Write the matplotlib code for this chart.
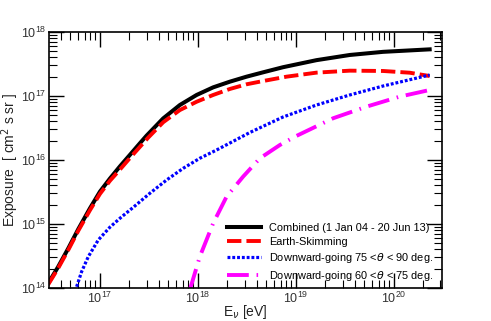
import numpy as np
import matplotlib
matplotlib.use("Agg")
import matplotlib.pyplot as plt
from matplotlib.ticker import LogLocator, NullFormatter

plt.rcParams['font.family'] = ['Liberation Sans', 'DejaVu Sans']

# log10(E/eV) and log10(exposure / cm2 s sr)
comb_x = [16.472, 16.574, 16.677, 16.779, 16.898, 17.000, 17.102, 17.204, 17.323, 17.408,
          17.476, 17.646, 17.816, 17.987, 18.156, 18.327, 18.497, 18.666, 18.870, 19.211,
          19.551, 19.891, 20.367]
comb_y = [14.073, 14.333, 14.620, 14.920, 15.245, 15.505, 15.710, 15.900, 16.110, 16.261,
          16.380, 16.650, 16.859, 17.016, 17.135, 17.224, 17.302, 17.370, 17.450, 17.560,
          17.641, 17.690, 17.729]

es_x = [16.472, 16.574, 16.677, 16.779, 16.898, 17.000, 17.102, 17.204, 17.323, 17.493,
        17.646, 17.816, 17.987, 18.156, 18.327, 18.497, 18.666, 18.905, 19.211, 19.551,
        19.891, 20.163, 20.367]
es_y = [14.055, 14.310, 14.595, 14.895, 15.215, 15.470, 15.675, 15.850, 16.060, 16.350,
        16.590, 16.780, 16.910, 17.016, 17.110, 17.183, 17.234, 17.302, 17.365, 17.396,
        17.391, 17.364, 17.312]

dg75_x = [16.762, 16.813, 16.881, 16.983, 17.102, 17.220, 17.340, 17.510, 17.681, 17.850,
          18.020, 18.191, 18.395, 18.531, 18.870, 19.211, 19.551, 19.891, 20.367]
dg75_y = [14.020, 14.255, 14.489, 14.750, 14.950, 15.110, 15.260, 15.480, 15.688, 15.870,
          16.027, 16.156, 16.320, 16.430, 16.672, 16.859, 17.016, 17.156, 17.328]

dg60_x = [17.918, 18.020, 18.156, 18.293, 18.462, 18.633, 18.837, 18.990, 19.381, 19.721,
          20.061, 20.367]
dg60_y = [13.970, 14.490, 15.010, 15.427, 15.740, 16.026, 16.234, 16.364, 16.652, 16.833,
          16.990, 17.094]

labels = ['Combined (1 Jan 04 - 20 Jun 13)', 'Earth-Skimming',
          r'Downward-going 75 <$\theta$ < 90 deg.', r'Downward-going 60 <$\theta$ < 75 deg.']

fig = plt.figure(figsize=(4.91, 3.21), dpi=100)
ax = fig.add_axes([0.0998, 0.1028, 0.7998, 0.7975])

ax.plot(10**np.array(comb_x), 10**np.array(comb_y), color='black', lw=2.9,
        solid_joinstyle='round', label=labels[0])
ax.plot(10**np.array(es_x), 10**np.array(es_y), color='red', lw=2.8,
        dashes=(3.7, 1.3), label=labels[1])
ax.plot(10**np.array(dg75_x), 10**np.array(dg75_y), color='blue', lw=2.3,
        dashes=(0.9, 0.6), label=labels[2])
ax.plot(10**np.array(dg60_x), 10**np.array(dg60_y), color='magenta', lw=2.8,
        dashes=(5.6, 2.0, 0.4, 2.0), label=labels[3])

ax.set_xscale('log')
ax.set_yscale('log')
ax.set_xlim(10**16.48, 10**20.49)
ax.set_ylim(1e14, 1e18)

ax.xaxis.set_major_locator(LogLocator(base=10, numticks=10))
ax.xaxis.set_minor_locator(LogLocator(base=10, subs=np.arange(2, 10), numticks=20))
ax.yaxis.set_minor_locator(LogLocator(base=10, subs=np.arange(2, 10), numticks=20))
ax.xaxis.set_minor_formatter(NullFormatter())
ax.yaxis.set_minor_formatter(NullFormatter())

ax.tick_params(which='both', direction='in', top=True, right=True, labelsize=9,
               labelcolor='#333333', pad=2)
ax.tick_params(which='major', length=11, width=1)
ax.tick_params(which='minor', length=6, width=0.8)
for s in ax.spines.values():
    s.set_linewidth(1.2)

ax.set_xlabel(r'E$_\nu$ [eV]', fontsize=10, color='#222222')
ax.set_ylabel(r'Exposure  [ cm$^2$ s sr ]', fontsize=10, color='#222222')
ax.xaxis.set_label_coords(0.5, -0.059)
ax.yaxis.set_label_coords(-0.072, 0.5)

ax.legend(loc='lower right', bbox_to_anchor=(0.989, 0.002), frameon=False, fontsize=7.9,
          handlelength=3.1, labelspacing=0.38, borderaxespad=0, handletextpad=0.73)

fig.savefig('out.png', dpi=100)
